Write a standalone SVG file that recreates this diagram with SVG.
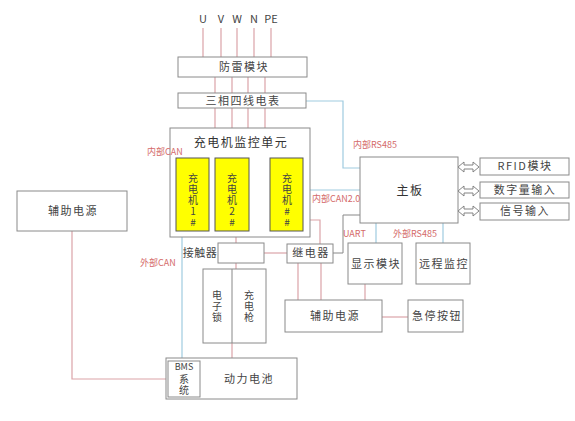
<svg xmlns="http://www.w3.org/2000/svg" width="575" height="421" viewBox="0 0 575 421">
<style>
.box{fill:#fff;stroke:#8a8a8a;stroke-width:1}
.yel{fill:#ffff00;stroke:#555;stroke-width:1}
.t{font-family:"Noto Sans CJK SC","Liberation Sans",sans-serif;font-size:11px;fill:#444;text-anchor:middle;letter-spacing:1.5px}
.v{font-family:"Noto Sans CJK SC","Liberation Sans",sans-serif;font-size:10px;fill:#444;text-anchor:middle;writing-mode:vertical-rl;text-orientation:upright;letter-spacing:1px}
.tb{font-family:"Noto Sans CJK SC","Liberation Sans",sans-serif;font-size:12px;fill:#333;text-anchor:middle;letter-spacing:1.5px}
.r{font-family:"Noto Sans CJK SC","Liberation Sans",sans-serif;font-size:9px;fill:#d46a6a}
.p{fill:none;stroke:#dba3a8;stroke-width:1.2}
.b{fill:none;stroke:#9fcbe0;stroke-width:1.2}
.g{fill:none;stroke:#888;stroke-width:1}
.arr{fill:#fff;stroke:#777;stroke-width:0.9}
</style>
<rect width="575" height="421" fill="#fff"/>
<g id="connectors">
  <path class="p" d="M203 28V57M221 28V57M237 28V57M254 28V57M271 28V57"/>
  <path class="p" d="M215 77V93M232 77V93M248 77V93M265 77V93"/>
  <path class="p" d="M215 108V128M232 108V128M248 108V128M265 108V128"/>
  <path class="b" d="M306 101H343V168H360"/>
  <path class="b" d="M193 158V151H287V158M232 151V158"/>
  <path class="b" d="M310 190H360"/>
  <path class="p" d="M310 220H320V244"/>
  <path class="p" d="M298 263V300M321 263V300"/>
  <path class="g" d="M360 215H343V253H333"/>
  <path class="b" d="M376 223V243M443 223V243"/>
  <path class="p" d="M365 284V300"/>
  <path class="p" d="M382 317H408"/>
  <path class="p" d="M264 253H287"/>
  <path class="p" d="M236 237V248M236 248L249 257M236 262V269"/>
  <path class="p" d="M232 343V358"/>
  <path class="b" d="M182 237V361"/>
  <path class="p" d="M72 231V379H166"/>
  <path class="arr" d="M458 167l6-5v3h9v-3l6 5-6 5v-3h-9v3z"/>
  <path class="arr" d="M458 191l6-5v3h9v-3l6 5-6 5v-3h-9v3z"/>
  <path class="arr" d="M458 211l6-5v3h9v-3l6 5-6 5v-3h-9v3z"/>
</g>
<g id="phases">
  <text class="t" x="203" y="23" style="letter-spacing:0">U</text>
  <text class="t" x="221" y="23" style="letter-spacing:0">V</text>
  <text class="t" x="237" y="23" style="letter-spacing:0">W</text>
  <text class="t" x="254" y="23" style="letter-spacing:0">N</text>
  <text class="t" x="271" y="23" style="letter-spacing:0">PE</text>
</g>
<g id="lightning"><rect class="box" x="178" y="57" width="129" height="20"/><text class="t" x="244" y="71">防雷模块</text></g>
<g id="meter"><rect class="box" x="178" y="93" width="128" height="15"/><text class="t" x="243" y="105">三相四线电表</text></g>
<g id="monitor">
  <rect class="box" x="170" y="128" width="140" height="109"/>
  <text class="tb" x="241" y="147">充电机监控单元</text>
</g>
<g id="charger1"><rect class="yel" x="176" y="158" width="33" height="73"/><text class="v" x="193" y="201">充电机1#</text></g>
<g id="charger2"><rect class="yel" x="215" y="158" width="34" height="73"/><text class="v" x="232" y="201">充电机2#</text></g>
<g id="charger3"><rect class="yel" x="270" y="158" width="33" height="73"/><text class="v" x="287" y="201">充电机##</text></g>
<g id="mainboard"><rect class="box" x="360" y="157" width="98" height="66"/><text class="tb" x="410" y="195">主板</text></g>
<g id="rfid"><rect class="box" x="480" y="158" width="89" height="17"/><text class="t" x="525" y="170">RFID模块</text></g>
<g id="digital"><rect class="box" x="480" y="182" width="89" height="16"/><text class="t" x="525" y="194">数字量输入</text></g>
<g id="signal"><rect class="box" x="480" y="203" width="89" height="17"/><text class="t" x="525" y="215">信号输入</text></g>
<g id="aux-left"><rect class="box" x="17" y="191" width="110" height="40"/><text class="t" x="73" y="215">辅助电源</text></g>
<g id="contactor"><rect class="box" x="218" y="243" width="46" height="20"/><text class="t" x="200" y="257" style="letter-spacing:0.5px">接触器</text></g>
<g id="relay"><rect class="box" x="287" y="244" width="46" height="19"/><text class="t" x="311" y="257">继电器</text></g>
<g id="display"><rect class="box" x="348" y="243" width="54" height="41"/><text class="t" x="376" y="268">显示模块</text></g>
<g id="remote"><rect class="box" x="416" y="243" width="54" height="41"/><text class="t" x="444" y="268">远程监控</text></g>
<g id="gun">
  <rect class="box" x="203" y="269" width="63" height="74"/>
  <line class="g" x1="232" y1="269" x2="232" y2="343"/>
  <text class="v" x="217" y="307">电子锁</text>
  <text class="v" x="249" y="307">充电枪</text>
</g>
<g id="aux-bottom"><rect class="box" x="285" y="300" width="97" height="32"/><text class="t" x="335" y="320">辅助电源</text></g>
<g id="estop"><rect class="box" x="408" y="300" width="55" height="32"/><text class="t" x="437" y="320">急停按钮</text></g>
<g id="battery">
  <rect class="box" x="166" y="358" width="131" height="41"/>
  <rect class="box" x="168" y="361" width="32" height="36"/>
  <text class="t" x="184" y="370" style="font-size:9px;letter-spacing:0">BMS</text>
  <text class="v" x="184" y="385">系统</text>
  <text class="t" x="249" y="383">动力电池</text>
</g>
<g id="labels">
  <text class="r" x="147" y="155">内部CAN</text>
  <text class="r" x="353" y="148">内部RS485</text>
  <text class="r" x="312" y="202">内部CAN2.0</text>
  <text class="r" x="343" y="237">UART</text>
  <text class="r" x="393" y="237">外部RS485</text>
  <text class="r" x="140" y="266">外部CAN</text>
</g>
</svg>
